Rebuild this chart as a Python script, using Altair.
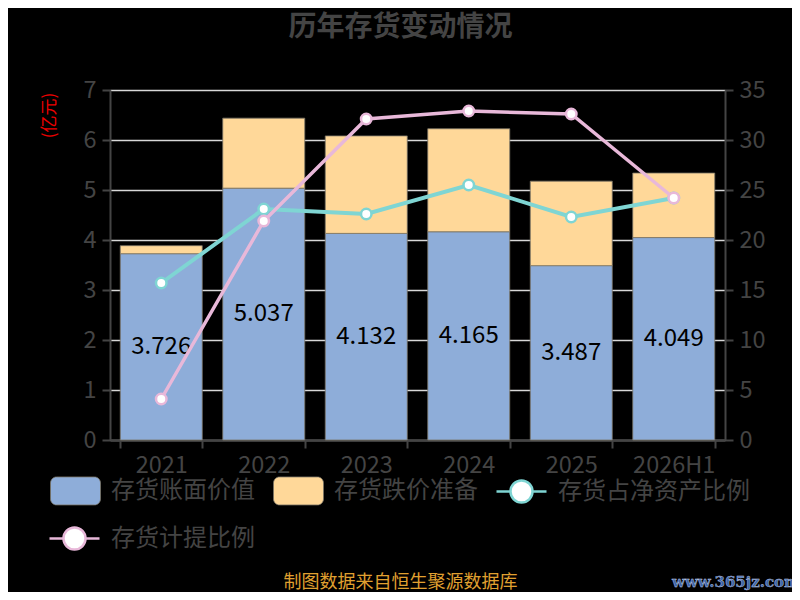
import altair as alt
import pandas as pd

years = ["2021", "2022", "2023", "2024", "2025", "2026H1"]
book_value = [3.726, 5.037, 4.132, 4.165, 3.487, 4.049]
provision = [0.16, 1.40, 1.95, 2.06, 1.69, 1.29]
ratio_net_assets = [15.7, 23.1, 22.6, 25.5, 22.3, 24.2]
ratio_provision = [4.1, 21.9, 32.1, 32.9, 32.6, 24.2]

bar_names = ["存货账面价值", "存货跌价准备"]
bar_colors = ["#8eadd9", "#ffd899"]
net_name = "存货占净资产比例"
net_color = "#7fd5d3"
prov_name = "存货计提比例"
prov_color = "#e8b8d9"

FONT = "Noto Sans CJK SC"
GRAY = "#444444"

rect_path = ("M-0.76,-0.56L0.76,-0.56A0.24,0.24,0,0,1,1,-0.32L1,0.32"
             "A0.24,0.24,0,0,1,0.76,0.56L-0.76,0.56A0.24,0.24,0,0,1,-1,0.32"
             "L-1,-0.32A0.24,0.24,0,0,1,-0.76,-0.56Z")
line_circle_path = ("M-1,0L-0.44,0M0.44,0L1,0M-0.44,0A0.44,0.44,0,1,0,0.44,0"
                    "A0.44,0.44,0,1,0,-0.44,0Z")

df_bar = pd.DataFrame({
    "year": years * 2,
    "series": [bar_names[0]] * len(years) + [bar_names[1]] * len(years),
    "value": book_value + provision,
    "ord": [0] * len(years) + [1] * len(years),
})
df_text = pd.DataFrame({"year": years, "book": book_value})
df_net = pd.DataFrame({"year": years, "pct": ratio_net_assets, "series": net_name})
df_prov = pd.DataFrame({"year": years, "pct": ratio_provision, "series": prov_name})

x_enc = alt.X(
    "year:N", sort=years,
    scale=alt.Scale(paddingInner=0.2, paddingOuter=0.1),
    axis=alt.Axis(
        title="制图数据来自恒生聚源数据库", titleColor="#e0a030", titleFontSize=18,
        titleFontWeight="normal", titleX=290, titleY=142, titleAlign="center",
        titleBaseline="middle", titleFont=FONT,
        labelAngle=0, labelFontSize=23.5, labelColor=GRAY, labelFont=FONT,
        labelPadding=5, tickBand="extent", tickSize=8, tickColor=GRAY,
        domainColor=GRAY, domainWidth=2, tickWidth=2,
    ),
)

left_axis = alt.Axis(
    title="(亿元)", titleColor="#ee0000", titleFontSize=17, titleFontWeight="normal",
    titleFont=FONT, titleX=-61, titleY=25, titleAlign="center", titleBaseline="middle",
    values=list(range(8)), labelFontSize=23.5, labelColor=GRAY, labelFont=FONT,
    labelPadding=6, tickSize=8, tickColor=GRAY, tickWidth=2, domainColor=GRAY,
    domainWidth=2, gridColor="#d8d8d8", gridWidth=1.5,
)
right_axis = alt.Axis(
    orient="right", title="%", titleColor="#ee0000", titleFontSize=17,
    titleFontWeight="normal", titleFont=FONT, titleX=72, titleY=4,
    titleAlign="center", titleBaseline="middle",
    values=list(range(0, 36, 5)), labelFontSize=23.5, labelColor=GRAY, labelFont=FONT,
    labelPadding=6, tickSize=8, tickColor=GRAY, tickWidth=2, domainColor=GRAY,
    domainWidth=2, grid=False,
)

def legend(x, y, sym):
    return alt.Legend(
        title=None, orient="none", legendX=x, legendY=y, direction="horizontal",
        symbolType=sym, symbolSize=2500, labelFontSize=24, labelColor=GRAY,
        labelFont=FONT, labelOffset=10, columnPadding=22, padding=0, labelLimit=400,
        symbolStrokeWidth=2.5, symbolFillColor="white", symbolOpacity=1,
    )

bars = alt.Chart(df_bar).mark_bar(stroke="#7a7466", strokeWidth=0.8).encode(
    x=x_enc,
    y=alt.Y("value:Q", stack="zero", scale=alt.Scale(domain=[0, 7]), axis=left_axis),
    fill=alt.Fill("series:N", scale=alt.Scale(domain=bar_names, range=bar_colors),
                  legend=alt.Legend(
                      title=None, orient="none", legendX=-60, legendY=375,
                      direction="horizontal", symbolType=rect_path, symbolSize=2500,
                      labelFontSize=24, labelColor=GRAY, labelFont=FONT,
                      labelOffset=10, columnPadding=16, padding=0, labelLimit=400,
                      symbolStrokeWidth=0.8, symbolStrokeColor="#7a7466",
                      symbolOpacity=1)),
    order=alt.Order("ord:Q"),
)

labels = alt.Chart(df_text).transform_calculate(mid="datum.book / 2").mark_text(
    fontSize=24, color="black", font=FONT
).encode(
    x=alt.X("year:N", sort=years),
    y=alt.Y("mid:Q", scale=alt.Scale(domain=[0, 7]), axis=left_axis),
    text=alt.Text("book:Q", format=".3f"),
)

watermark = alt.Chart(alt.Data(values=[{}])).mark_text(
    text="www.365jz.com", font="DejaVu Serif", fontWeight="bold", fontSize=15,
    color="#3d64a8", stroke="#c8d4ea", strokeWidth=0.4, align="center", baseline="middle",
).encode(x=alt.value(626), y=alt.value(492))

def line_layer(df, name, color, lx, ly):
    base = alt.Chart(df).encode(
        x=alt.X("year:N", sort=years),
        y=alt.Y("pct:Q", scale=alt.Scale(domain=[0, 35]), axis=right_axis),
        stroke=alt.Stroke("series:N", scale=alt.Scale(domain=[name], range=[color]),
                          legend=legend(lx, ly, line_circle_path)),
    )
    line = base.mark_line(strokeWidth=4 if name == net_name else 3.5)
    pts = base.mark_point(filled=True, fill="white", size=110, strokeWidth=2.5, opacity=1)
    return alt.layer(line, pts)

left = alt.layer(bars, labels, watermark)
right = alt.layer(
    line_layer(df_net, net_name, net_color, 385, 375),
    line_layer(df_prov, prov_name, prov_color, -62, 422),
).resolve_scale(stroke="independent")

chart = alt.layer(left, right).resolve_scale(y="independent", stroke="independent").properties(
    width=615, height=350,
    padding={"left": 102, "top": 82, "right": 67, "bottom": 152},
    autosize=alt.AutoSizeParams(type="none"),
    title=alt.TitleParams(
        "历年存货变动情况", fontSize=28, fontWeight="bold", color=GRAY, font=FONT,
        anchor="middle", dx=-17, offset=36,
    ),
).configure(background="black", font=FONT).configure_view(stroke=None)

chart.save("out.html", embed_options={"renderer": "svg", "actions": False})
